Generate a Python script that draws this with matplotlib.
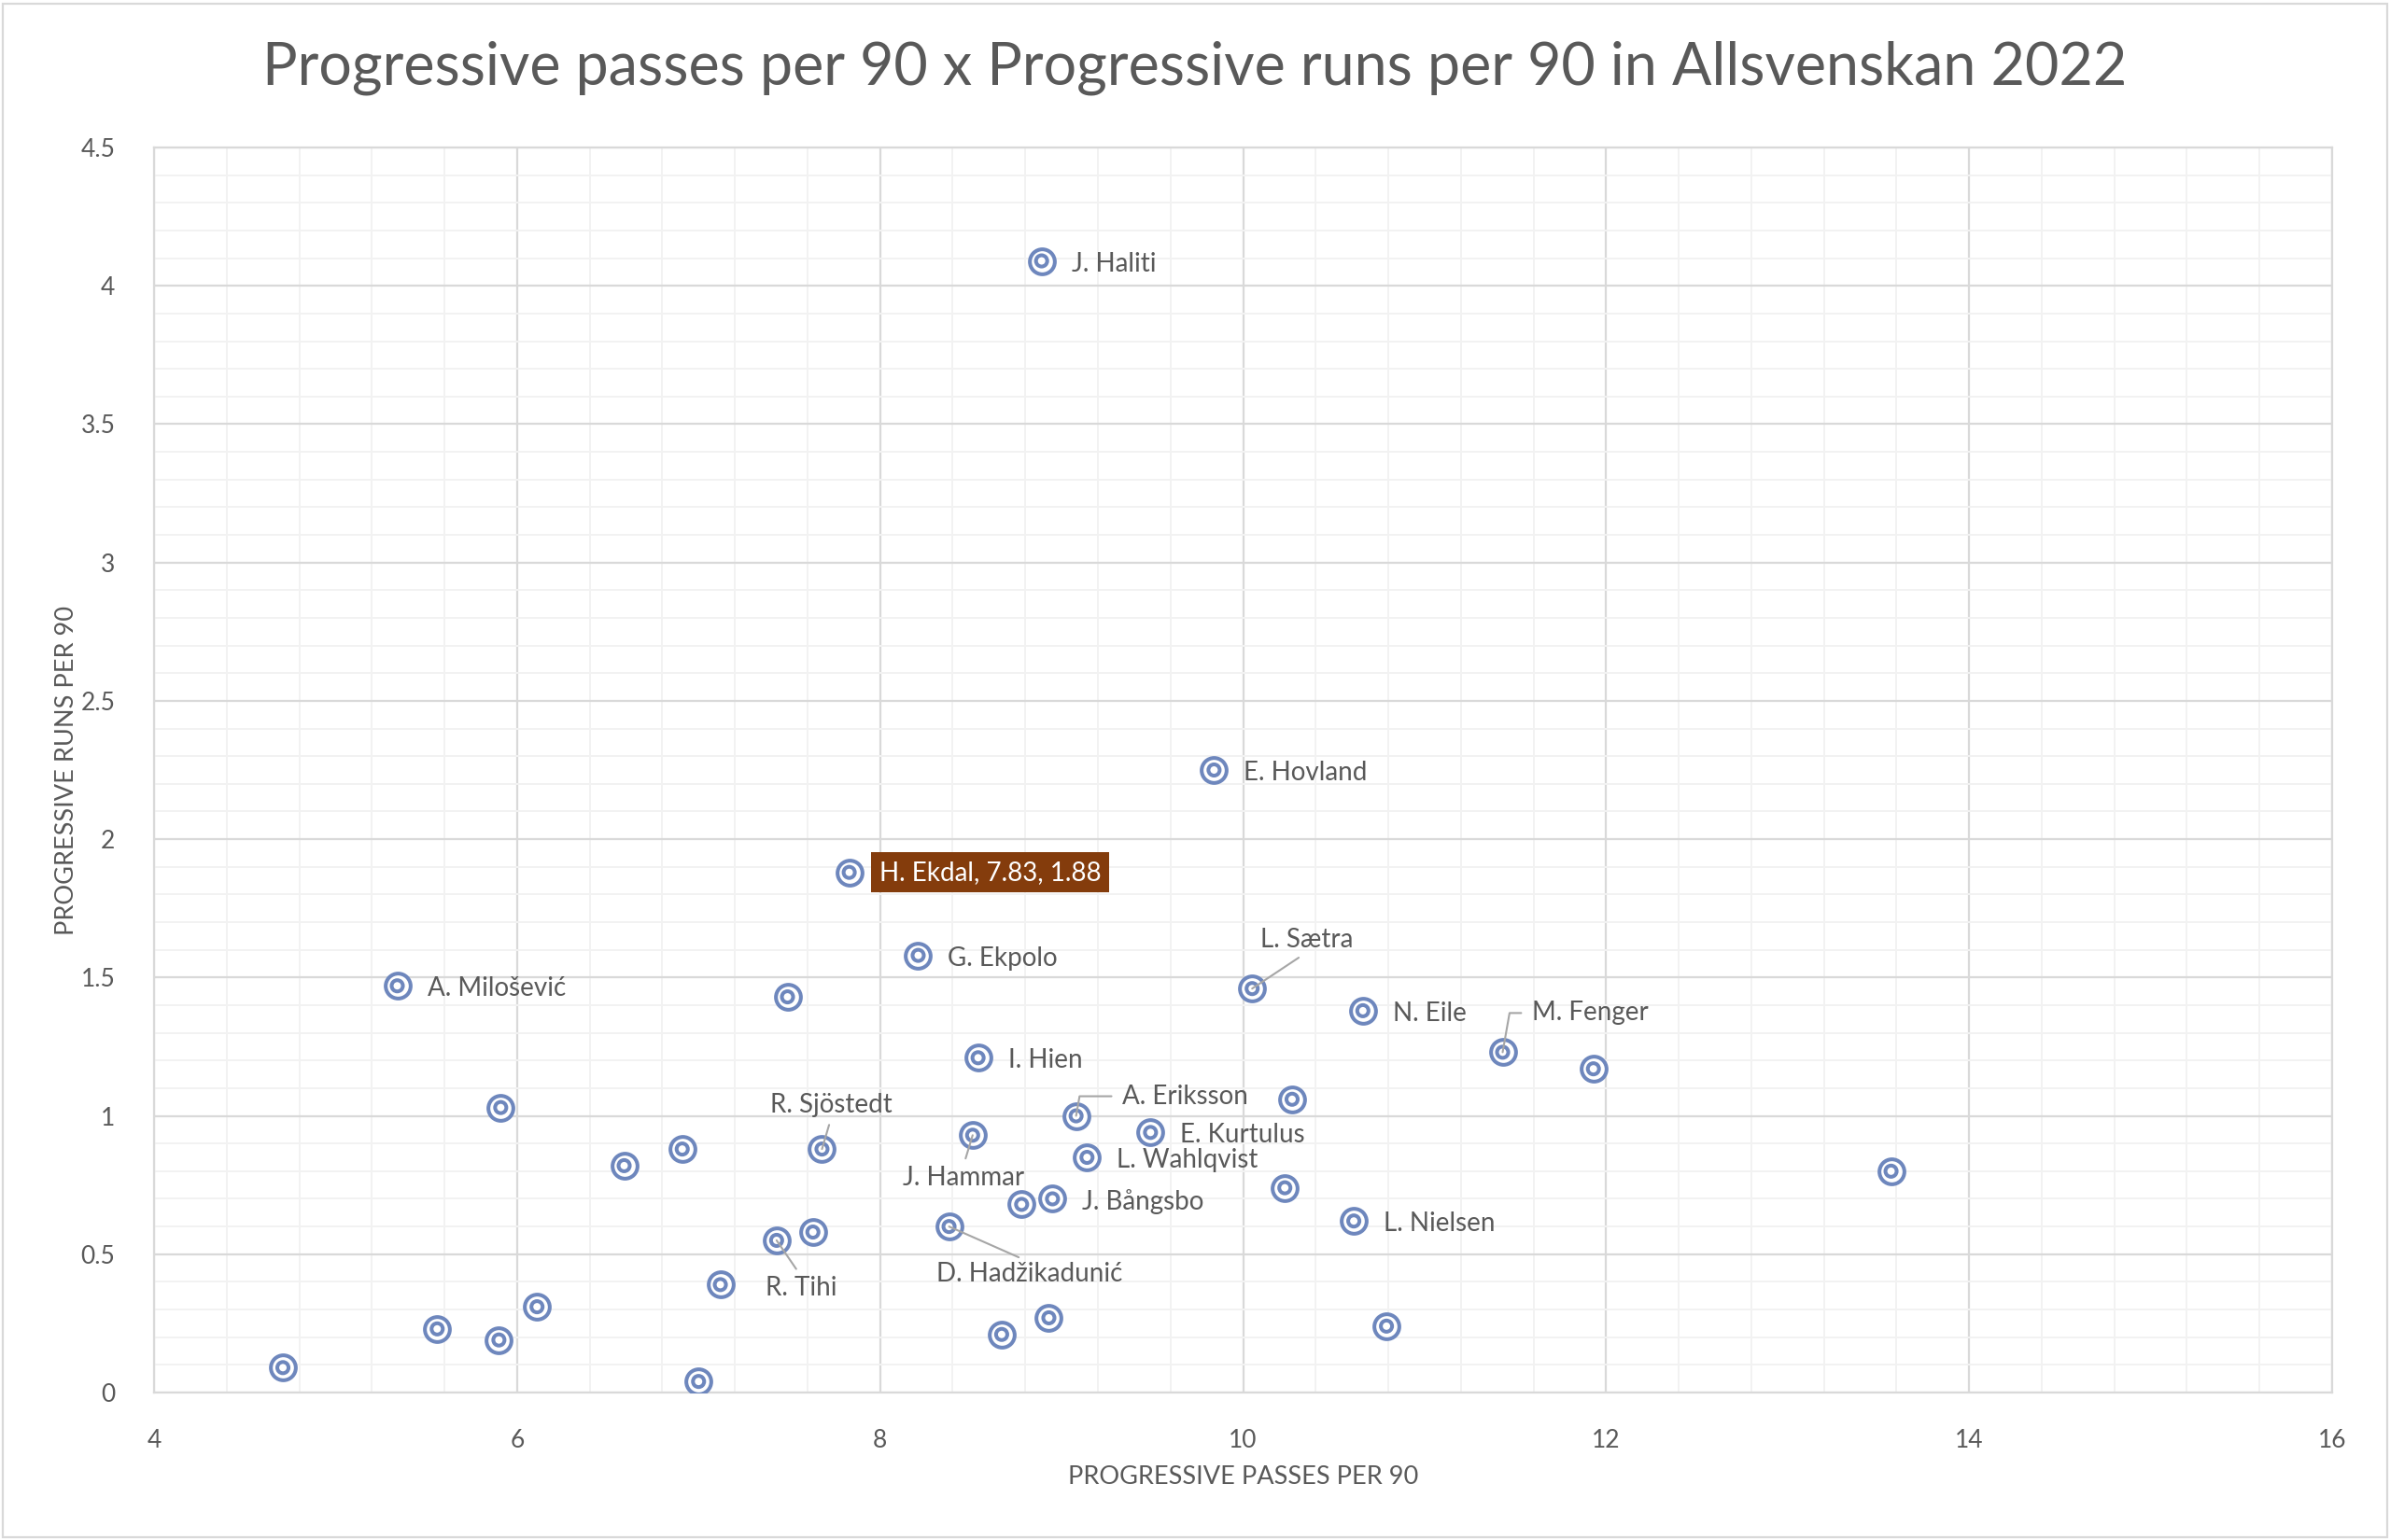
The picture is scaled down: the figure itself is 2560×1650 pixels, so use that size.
import matplotlib
matplotlib.use("Agg")
import matplotlib.pyplot as plt
from matplotlib.ticker import MultipleLocator
from matplotlib.patches import Rectangle

# player data (empty name = no data label)
players = ["J. Haliti", "E. Hovland", "H. Ekdal", "G. Ekpolo", "A. Milošević", "",
           "L. Sætra", "N. Eile", "M. Fenger", "", "I. Hien", "",
           "A. Eriksson", "", "E. Kurtulus", "J. Hammar", "R. Sjöstedt", "",
           "", "L. Wahlqvist", "", "", "J. Bångsbo", "",
           "L. Nielsen", "D. Hadžikadunić", "", "R. Tihi", "", "",
           "", "", "", "", "", "", ""]
prog_passes = [8.89, 9.84, 7.83, 8.21, 5.34, 7.49,
               10.05, 10.66, 11.43, 11.93, 8.54, 5.91,
               9.08, 10.27, 9.49, 8.51, 7.68, 6.91,
               6.59, 9.14, 13.57, 10.23, 8.95, 8.78,
               10.61, 8.38, 7.63, 7.43, 7.12, 6.11,
               5.56, 5.90, 4.71, 7.00, 8.67, 8.93, 10.79]
prog_runs = [4.09, 2.25, 1.88, 1.58, 1.47, 1.43,
             1.46, 1.38, 1.23, 1.17, 1.21, 1.03,
             1.00, 1.06, 0.94, 0.93, 0.88, 0.88,
             0.82, 0.85, 0.80, 0.74, 0.70, 0.68,
             0.62, 0.60, 0.58, 0.55, 0.39, 0.31,
             0.23, 0.19, 0.09, 0.04, 0.21, 0.27, 0.24]

highlight = "H. Ekdal"

# label placement in pixels relative to the point: (dx, dy, ha, leader)
label_pos = {
    "L. Sætra": (9, 52, "left", "up"),
    "M. Fenger": (31, 42, "left", "elbow"),
    "A. Eriksson": (49, 21, "left", "elbow"),
    "R. Sjöstedt": (10, 47, "center", "up"),
    "J. Hammar": (-10, -46, "center", "down"),
    "D. Hadžikadunić": (86, -51, "center", "down"),
    "R. Tihi": (26, -51, "center", "down"),
}

TXT = "#595959"
BLUE = "#6E87BD"

plt.rcParams["font.family"] = ["Lato", "DejaVu Sans"]

fig = plt.figure(figsize=(25.6, 16.5), dpi=100)
ax = fig.add_axes([165 / 2560, 1 - 1492 / 1650, (2498 - 165) / 2560, (1492 - 158) / 1650])

ax.set_xlim(4, 16)
ax.set_ylim(0, 4.5)
ax.xaxis.set_major_locator(MultipleLocator(2))
ax.xaxis.set_minor_locator(MultipleLocator(0.4))
ax.yaxis.set_major_locator(MultipleLocator(0.5))
ax.yaxis.set_minor_locator(MultipleLocator(0.1))
ax.yaxis.set_major_formatter(lambda v, p: f"{v:g}")
ax.grid(which="minor", color="#F2F2F2", lw=1.4, zorder=0)
ax.grid(which="major", color="#D9D9D9", lw=1.6, zorder=0)
ax.set_axisbelow(True)
ax.tick_params(which="both", length=0, labelsize=19, labelcolor=TXT)
ax.tick_params(axis="x", pad=28)
ax.tick_params(axis="y", pad=30)
for s in ax.spines.values():
    s.set_color("#D9D9D9")
    s.set_linewidth(1.6)

ax.scatter(prog_passes, prog_runs, s=370, facecolor="white", edgecolor=BLUE, lw=2.9, zorder=3)
ax.scatter(prog_passes, prog_runs, s=75, facecolor="none", edgecolor=BLUE, lw=2.9, zorder=4)

for name, x, y in zip(players, prog_passes, prog_runs):
    if not name:
        continue
    if name == highlight:
        ax.annotate(f"{name}, {x:.2f}, {y:.2f}", (x, y), xytext=(32, 0), textcoords="offset pixels",
                    ha="left", va="center", fontsize=20, color="white", zorder=6,
                    bbox=dict(boxstyle="square,pad=0.3", fc="#843C0C", ec="none"))
        continue
    if name not in label_pos:
        ax.annotate(name, (x, y), xytext=(32, -3), textcoords="offset pixels",
                    ha="left", va="center", fontsize=20, color=TXT, zorder=5)
        continue
    dx, dy, ha, lead = label_pos[name]
    if lead == "elbow":
        ap = dict(arrowstyle="-", color="#A6A6A6", lw=1.5, shrinkA=6, shrinkB=0,
                  relpos=(0, 0.5), connectionstyle="angle,angleA=0,angleB=80,rad=0")
    elif lead == "up":
        ap = dict(arrowstyle="-", color="#A6A6A6", lw=1.5, shrinkA=4, shrinkB=0, relpos=(0.5, 0))
    else:
        ap = dict(arrowstyle="-", color="#A6A6A6", lw=1.5, shrinkA=4, shrinkB=0, relpos=(0.5, 1))
    ax.annotate(name, (x, y), xytext=(dx, dy), textcoords="offset pixels",
                ha=ha, va="center", fontsize=20, color=TXT, zorder=5, arrowprops=ap)

ax.set_xlabel("PROGRESSIVE PASSES PER 90", fontsize=19.5, color=TXT, labelpad=10)
ax.set_ylabel("PROGRESSIVE RUNS PER 90", fontsize=19.5, color=TXT, labelpad=2)

fig.text(0.5, 1 - 73 / 1650, "Progressive passes per 90 x Progressive runs per 90 in Allsvenskan 2022",
         ha="center", va="center", fontsize=45.2, color=TXT, fontweight="normal")

fig.patches.append(Rectangle((3 / 2560, 3 / 1650), 2554 / 2560, 1643 / 1650, transform=fig.transFigure,
                             fill=False, ec="#D9D9D9", lw=1.6))

fig.savefig("out.png", dpi=100, facecolor="white")
